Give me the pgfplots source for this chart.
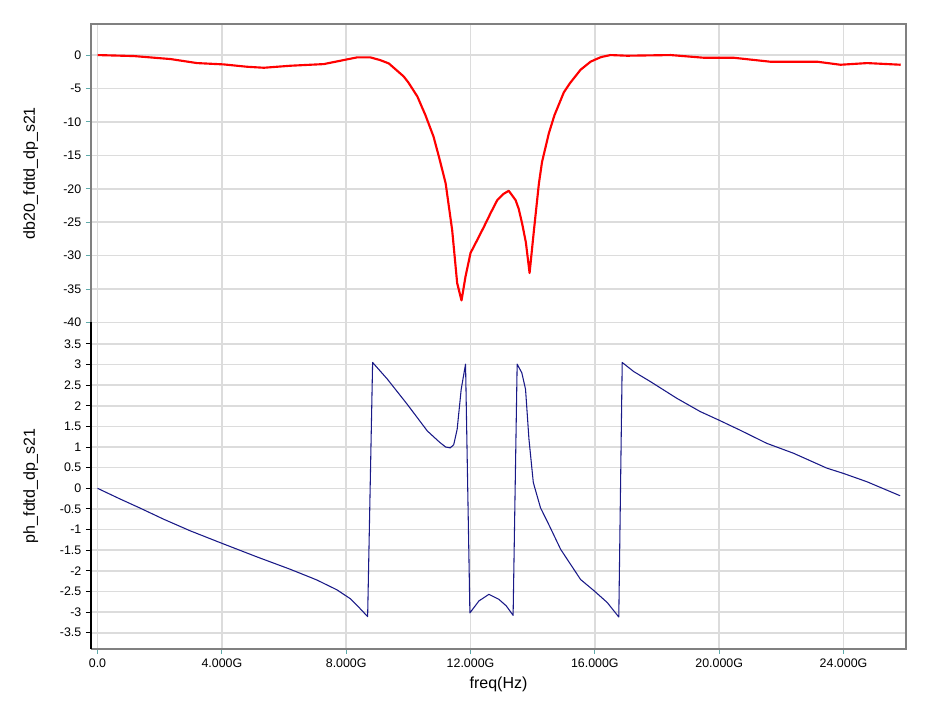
\documentclass[border=0pt]{standalone}
\usepackage{fontspec}
\setmainfont{Liberation Sans}
\usepackage{pgfplots}
\pgfplotsset{compat=1.18}
\definecolor{gridc}{RGB}{220,220,220}
\definecolor{axc}{RGB}{128,128,128}
\definecolor{tickc}{RGB}{95,170,170}
\definecolor{phc}{RGB}{25,25,135}
\pgfplotsset{
  base/.style={
    scale only axis, width=611.25pt, xmin=-0.21, xmax=26.01,
    xtick={0,4,8,12,16,20,24},
    grid=major, major grid style={gridc, line width=1.2pt},
    axis line style={draw=none},
    tick align=outside, major tick length=3.75pt,
    xtick pos=bottom, ytick pos=left,
    ticklabel style={font=\fontsize{9.3}{10}\selectfont, text=black},
    every axis y label/.style={at={(axis description cs:-0.074,0.5)}, rotate=90, anchor=center, font=\fontsize{12}{14}\selectfont},
    every axis x label/.style={at={(axis description cs:0.5,0)}, anchor=center, yshift=-26.25pt, font=\fontsize{12}{14}\selectfont},
    anchor=south west,
  }
}
\begin{document}
\begin{tikzpicture}
\path (0,0) rectangle (702pt,533.25pt);
% top panel: dB
\begin{axis}[base, at={(68.25pt,291.375pt)}, height=223.65pt,
  ymin=-40, ymax=4.6,
  ytick={-40,-35,-30,-25,-20,-15,-10,-5,0},
  yticklabels={-40,-35,-30,-25,-20,-15,-10,-5,0},
  xticklabels={}, xtick style={draw=none},
  ytick style={tickc, line width=0.8pt},
  ylabel={db20\_fdtd\_dp\_s21}]
\addplot[red, line width=1.6pt, line join=round] coordinates {
(0,0) (1.17,-0.15) (2.35,-0.6) (3.2,-1.2) (4.06,-1.4) (4.81,-1.75) (5.35,-1.9)
(6.2,-1.6) (7.28,-1.35) (7.92,-0.75) (8.35,-0.35) (8.78,-0.35) (9.09,-0.75)
(9.37,-1.25) (9.85,-3.2) (10.0,-4.1) (10.29,-6.2) (10.55,-9) (10.81,-12.2)
(11.0,-15.5) (11.2,-19.2) (11.41,-26.2) (11.57,-34.1) (11.71,-36.7) (11.84,-33.1)
(12.0,-29.6) (12.2,-27.8) (12.43,-25.7) (12.65,-23.6) (12.86,-21.7) (13.05,-20.8)
(13.23,-20.3) (13.45,-21.7) (13.55,-23) (13.66,-25.2) (13.78,-28) (13.9,-32.6)
(14.04,-26.2) (14.2,-19.2) (14.3,-16) (14.52,-11.7) (14.7,-9) (15.0,-5.6)
(15.2,-4.2) (15.54,-2.2) (15.86,-1.0) (16.0,-0.7) (16.2,-0.3) (16.5,0)
(17.04,-0.1) (18.44,0) (19.5,-0.4) (20.46,-0.4) (21.65,-1.0) (23.16,-1.0)
(23.9,-1.45) (24.76,-1.2) (25.84,-1.45)
};
\end{axis}
% bottom panel: phase
\begin{axis}[base, at={(68.25pt,46.5pt)}, height=244.9pt,
  ymin=-3.895, ymax=4.02,
  ytick={-3.5,-3,-2.5,-2,-1.5,-1,-0.5,0,0.5,1,1.5,2,2.5,3,3.5},
  yticklabels={-3.5,-3,-2.5,-2,-1.5,-1,-0.5,0,0.5,1,1.5,2,2.5,3,3.5},
  xticklabels={0.0,4.000G,8.000G,12.000G,16.000G,20.000G,24.000G},
  xtick style={tickc, line width=0.8pt},
  ytick style={black, line width=0.8pt},
  ylabel={ph\_fdtd\_dp\_s21}, xlabel={freq(Hz)}]
\addplot[phc, line width=0.8pt, line join=round] coordinates {
(0,0) (0.7,-0.25) (1.37,-0.48) (2.13,-0.75) (2.98,-1.03) (3.99,-1.33) (5.12,-1.66)
(6.19,-1.96) (7.05,-2.22) (7.7,-2.46) (8.14,-2.68) (8.34,-2.83) (8.69,-3.11)
(8.85,3.05) (9.32,2.65) (9.96,2.04) (10.61,1.39) (11.0,1.12) (11.2,1.0)
(11.35,0.98) (11.46,1.06) (11.57,1.43) (11.7,2.4) (11.84,3.01)
(11.98,-3.02) (12.27,-2.73) (12.59,-2.57) (12.91,-2.69) (13.15,-2.85) (13.37,-3.08)
(13.5,3.01) (13.65,2.8) (13.77,2.4) (13.88,1.19) (14.02,0.14) (14.25,-0.47)
(14.5,-0.85) (14.9,-1.48) (15.54,-2.21) (16.0,-2.5) (16.4,-2.77) (16.77,-3.12)
(16.88,3.05) (17.25,2.83) (17.78,2.59) (18.64,2.18) (19.39,1.86) (19.97,1.66)
(20.67,1.41) (21.53,1.09) (22.39,0.85) (23.46,0.49) (24.0,0.36) (24.75,0.16)
(25.82,-0.18)
};
\end{axis}
% frame lines
\draw[axc, line width=1.5pt] (68.25pt,291.375pt) -- (68.25pt,515.0pt) -- (679.5pt,515.0pt) -- (679.5pt,46.5pt) -- (68.25pt,46.5pt);
\draw[black, line width=1.5pt] (68.25pt,46.5pt) -- (68.25pt,291.375pt);
\end{tikzpicture}
\end{document}
